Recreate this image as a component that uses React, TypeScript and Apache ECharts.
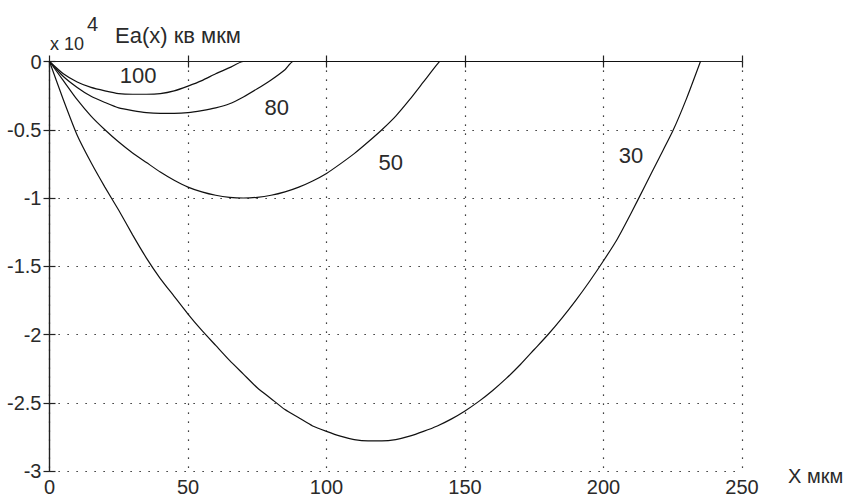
import React, { useEffect, useRef } from "react";
import * as echarts from "echarts";

// ---- data (x in мкм, Ea in units of 1e4) ----
const X30 = [0, 5, 10, 15, 20, 25, 30, 35, 40, 45, 50, 55, 60, 65, 70, 75, 80, 85, 90, 95, 100, 105, 110, 115, 120, 125, 130, 135, 140, 145, 150, 155, 160, 165, 170, 175, 180, 185, 190, 195, 200, 205, 210, 215, 220, 225, 230, 235];
const E30 = [0, -0.28, -0.54, -0.74, -0.92, -1.09, -1.27, -1.44, -1.59, -1.72, -1.85, -1.97, -2.08, -2.19, -2.29, -2.39, -2.47, -2.55, -2.61, -2.67, -2.71, -2.745, -2.77, -2.78, -2.78, -2.77, -2.745, -2.71, -2.67, -2.62, -2.56, -2.49, -2.41, -2.32, -2.22, -2.11, -2.0, -1.88, -1.75, -1.61, -1.46, -1.3, -1.11, -0.91, -0.71, -0.51, -0.27, 0];

const X50 = [0, 5, 10, 15, 20, 25, 30, 35, 40, 45, 50, 55, 60, 65, 70, 75, 80, 85, 90, 95, 100, 105, 110, 115, 120, 125, 130, 135, 140, 141, 235];
const E50 = [0, -0.14, -0.28, -0.4, -0.5, -0.59, -0.67, -0.74, -0.81, -0.87, -0.92, -0.955, -0.98, -0.995, -1.0, -0.995, -0.98, -0.955, -0.92, -0.875, -0.82, -0.75, -0.675, -0.59, -0.5, -0.4, -0.28, -0.15, -0.02, 0, 0];

const X80 = [0, 5, 10, 15, 20, 25, 30, 35, 40, 45, 50, 55, 60, 65, 70, 75, 80, 85, 88, 235];
const E80 = [0, -0.11, -0.19, -0.255, -0.3, -0.34, -0.36, -0.375, -0.38, -0.38, -0.375, -0.36, -0.34, -0.31, -0.26, -0.2, -0.135, -0.06, 0, 0];

const X100 = [0, 5, 10, 15, 20, 25, 30, 35, 40, 45, 50, 55, 60, 65, 70, 235];
const E100 = [0, -0.09, -0.15, -0.19, -0.215, -0.235, -0.24, -0.24, -0.235, -0.215, -0.18, -0.14, -0.09, -0.045, 0, 0];

const CURVE_NAMES = ["30", "50", "80", "100"];
// label anchor points in data coordinates
const LABEL_X = [209.9, 123.2, 82, 32];
const LABEL_Y = [-0.69, -0.74, -0.34, -0.1];

const X_MIN = 0, X_MAX = 250, X_STEP = 50;
const Y_MIN = -3, Y_MAX = 0, Y_STEP = 0.5;

const FONT = "'Liberation Sans', Arial, sans-serif";
const INK = "#2a2a2a";

const pairs = (xs: number[], ys: number[]) => xs.map((x, i) => [x, ys[i]]);

export default function App() {
  const ref = useRef<HTMLDivElement>(null);
  useEffect(() => {
    if (!ref.current) return;
    const chart = echarts.init(ref.current, undefined, { renderer: "svg" });
    const curves = [pairs(X30, E30), pairs(X50, E50), pairs(X80, E80), pairs(X100, E100)];
    const dotted = { color: "#000", width: 1.2, type: [1.2, 7.8] as any };
    chart.setOption({
      animation: false,
      backgroundColor: "#fff",
      grid: { left: 49.5, right: 111, top: 61.5, bottom: 26, containLabel: false },
      xAxis: [
        {
          type: "value", min: X_MIN, max: X_MAX, interval: X_STEP, position: "bottom",
          axisLine: { show: true, lineStyle: { color: "#222", width: 1.2 } },
          axisTick: { show: true, inside: true, length: 6, lineStyle: { color: "#222", width: 1.2 } },
          axisLabel: { show: true, margin: 6, color: INK, fontSize: 20, fontFamily: FONT },
          splitLine: { show: true, lineStyle: dotted },
        },
        {
          type: "value", min: X_MIN, max: X_MAX, interval: X_STEP, position: "top",
          axisLine: { show: false },
          axisTick: { show: true, inside: true, length: 6, lineStyle: { color: "#222", width: 1.2 } },
          axisLabel: { show: false },
          splitLine: { show: false },
        },
      ],
      yAxis: [
        {
          type: "value", min: Y_MIN, max: Y_MAX, interval: Y_STEP, position: "left",
          axisLine: { show: true, lineStyle: { color: "#222", width: 1.2 } },
          axisTick: { show: true, inside: true, length: 6, lineStyle: { color: "#222", width: 1.2 } },
          axisLabel: { show: true, margin: 8, color: INK, fontSize: 20, fontFamily: FONT },
          splitLine: { show: true, lineStyle: dotted },
        },
        {
          type: "value", min: Y_MIN, max: Y_MAX, interval: Y_STEP, position: "right",
          axisLine: { show: true, lineStyle: { color: "#222", width: 1.2 } },
          axisTick: { show: true, inside: true, length: 6, lineStyle: { color: "#222", width: 1.2 } },
          axisLabel: { show: false },
          splitLine: { show: false },
        },
      ],
      series: curves.map((data, i) => ({
        type: "line",
        name: CURVE_NAMES[i],
        data,
        showSymbol: false,
        smooth: 0.2,
        lineStyle: { color: "#111", width: 1.2 },
        markPoint: {
          symbol: "circle",
          symbolSize: 1,
          itemStyle: { color: "rgba(0,0,0,0)" },
          label: { show: true, position: "inside", formatter: CURVE_NAMES[i], color: INK, fontSize: 22, fontFamily: FONT },
          data: [{ coord: [LABEL_X[i], LABEL_Y[i]] }],
        },
      })),
      graphic: [
        { type: "text", x: 50, y: 43.5, style: { text: "x 10", fontSize: 18, fontFamily: FONT, fill: INK, verticalAlign: "middle", align: "left" } },
        { type: "text", x: 87, y: 24, style: { text: "4", fontSize: 20, fontFamily: FONT, fill: INK, verticalAlign: "middle", align: "left" } },
        { type: "text", x: 115, y: 35, style: { text: "Ea(x) кв мкм", fontSize: 22, fontFamily: FONT, fill: INK, verticalAlign: "middle", align: "left" } },
        { type: "text", x: 788, y: 476, style: { text: "X мкм", fontSize: 20, fontFamily: FONT, fill: INK, verticalAlign: "middle", align: "left" } },
      ],
    });
    return () => chart.dispose();
  }, []);
  return <div ref={ref} style={{ position: "fixed", left: 0, top: 0, width: 853, height: 497, background: "#fff" }} />;
}
